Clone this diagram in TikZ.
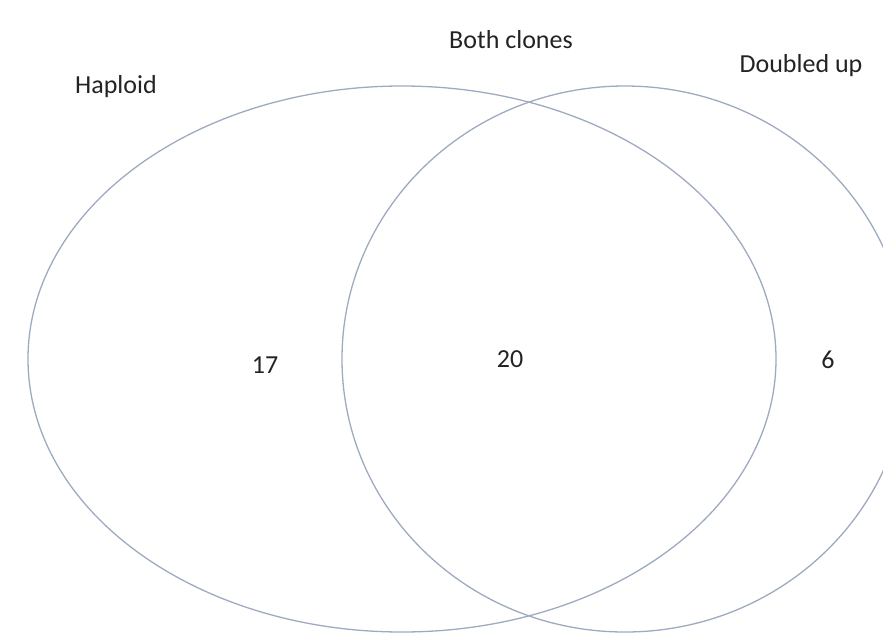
\documentclass[tikz,border=0pt]{standalone}
\usepackage{fontspec}
\setmainfont{Carlito}
\definecolor{ringline}{RGB}{158,170,192}
\definecolor{ringtext}{RGB}{35,35,35}

\begin{document}
\begin{tikzpicture}[x=1pt,y=-1pt,inner sep=0pt,outer sep=0pt,
	ring/.style={draw=ringline,line width=1.3pt},
	vennlabel/.style={anchor=base,text=ringtext,font=\fontsize{26}{30}\selectfont}]
	\useasboundingbox (0,0) rectangle (883,638);
	\clip (0,0) rectangle (883,638);
	
	\draw[ring] (402,359) ellipse [x radius=374, y radius=273];
	\draw[ring] (625,359) ellipse [x radius=283, y radius=273];
	
	\node[vennlabel] at (116,93) (haploid) {Haploid};
	\node[vennlabel] at (511,48) (both) {Both clones};
	\node[vennlabel] at (801,72) (doubled) {Doubled up};
	
	\node[vennlabel] at (265,373) (n_haploid) {17};
	\node[vennlabel] at (510,367) (n_both) {20};
	\node[vennlabel] at (828,368) (n_doubled) {6};
\end{tikzpicture}
\end{document}
